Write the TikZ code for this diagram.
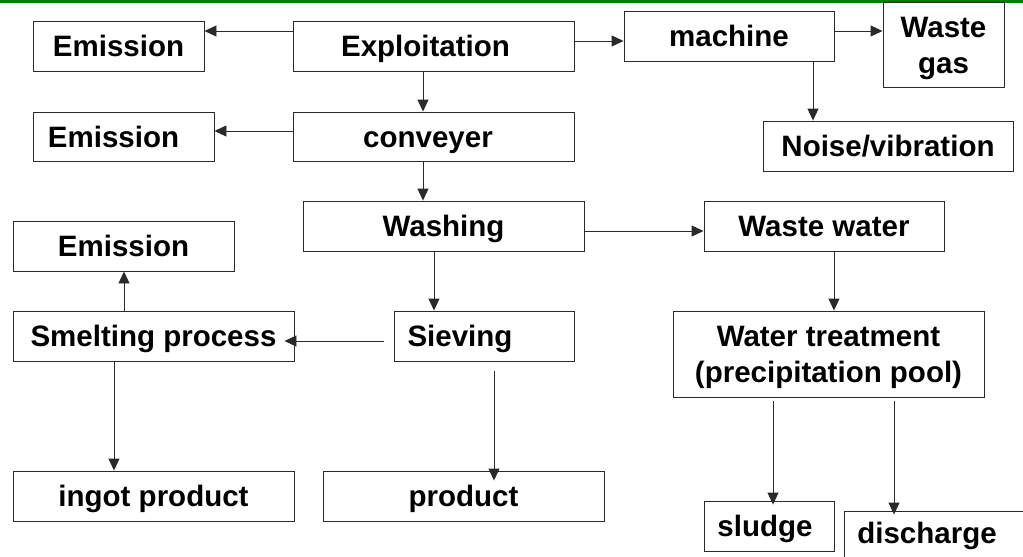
\documentclass[tikz,border=0pt]{standalone}
\usepackage{fontspec}
\setmainfont{Liberation Sans}
\usetikzlibrary{arrows.meta,calc}
\definecolor{topgreen}{HTML}{008000}
\definecolor{ink}{HTML}{2A2A2A}
\tikzset{
  box/.style={draw=ink, line width=0.9pt, rectangle, inner sep=0pt,
    minimum height=50pt, font=\fontsize{29.5}{36}\selectfont\bfseries, align=center,
    text height=21pt, text depth=0pt},
  twoline/.style={text height=57pt, text depth=0pt},
  lbl/.style={inner sep=0pt, font=\fontsize{29.5}{36}\selectfont\bfseries,
    text height=21pt, text depth=0pt},
  arr/.style={draw=ink, line width=0.9pt, -{Triangle[length=12pt,width=11pt]}}
}
\begin{document}
\begin{tikzpicture}[x=1pt,y=-1pt]
\useasboundingbox (0,0) rectangle (1023,557);
\begin{scope}
\clip (0,0) rectangle (1023,557);
\fill[topgreen] (0,0) rectangle (1023,3.4);
% boxes
\node[box, minimum width=171pt] (em1) at (118.5,46) {Emission};
\node[box, minimum width=281pt] (expl) at (433.5,46) {Exploitation\hspace*{16pt}};
\node[box, minimum width=210pt] (mach) at (729,36) {machine};
\node[box, twoline, minimum width=121pt, minimum height=85pt] (wgas) at (943.5,45) {Waste\\gas};
\node[box, minimum width=181pt, minimum height=49pt] (em2) at (123.5,136.5) {Emission\hspace*{20pt}};
\node[box, minimum width=281pt, minimum height=49pt] (conv) at (433.5,136.5) {conveyer\hspace*{11pt}};
\node[box, minimum width=250pt] (noise) at (888,146) {Noise/vibration};
\node[box, minimum width=281pt] (wash) at (443.5,226) {Washing};
\node[box, minimum width=240pt] (ww) at (824,226) {Waste water};
\node[box, minimum width=221pt] (em3) at (123.5,246) {Emission};
\node[box, minimum width=281pt] (smelt) at (153.5,336) {Smelting process};
\node[box, minimum width=180pt] (sieve) at (484,336) {Sieving\hspace*{48pt}};
\node[box, twoline, minimum width=311pt, minimum height=86pt] (wt) at (828.5,354) {Water treatment\\(precipitation pool)};
\node[box, minimum width=281pt] (ingot) at (153.5,496) {ingot product};
\node[box, minimum width=281pt] (prod) at (463.5,496) {product};
\node[box, minimum width=130pt] (sludge) at (769,526) {sludge\hspace*{8pt}};
\node[box, minimum width=190pt, minimum height=60pt] (disch) at (939,541) {};
\node[lbl] (dischtxt) at (927,532.5) {discharge};
% connectors
\draw[arr] ([yshift=15pt]expl.west) -- ([yshift=15pt]expl.west -| em1.east);
\draw[arr] ([xshift=-10.5pt]expl.south) -- ([xshift=-10.5pt]expl.south |- conv.north);
\draw[arr] ([yshift=5pt]expl.east) -- ([yshift=5pt]expl.east -| mach.west);
\draw[arr] ([yshift=5pt]mach.east) -- ([yshift=5pt]mach.east -| wgas.west);
\draw[arr] ([xshift=84pt]mach.south) -- ([xshift=84pt]mach.south |- noise.north);
\draw[arr] ([yshift=5.5pt]conv.west) -- ([yshift=5.5pt]conv.west -| em2.east);
\draw[arr] ([xshift=-10.5pt]conv.south) -- ([xshift=-10.5pt]conv.south |- wash.north);
\draw[arr] ([yshift=-5pt]wash.east) -- ([yshift=-5pt]wash.east -| ww.west);
\draw[arr] ([xshift=-9.5pt]wash.south) -- ([xshift=-9.5pt]wash.south |- sieve.north);
\draw[arr] ([xshift=10pt]ww.south) -- ([xshift=10pt]ww.south |- wt.north);
\draw[arr] ([xshift=-10pt,yshift=-5pt]sieve.west) -- ([xshift=-10pt,yshift=-5pt]sieve.west -| smelt.east);
\draw[arr] ([xshift=-29.5pt]smelt.north) -- ([xshift=-29.5pt]smelt.north |- em3.south);
\draw[arr] ([xshift=-39.5pt]smelt.south) -- ([xshift=-39.5pt]smelt.south |- ingot.north);
\draw[arr] ([xshift=10pt,yshift=-10pt]sieve.south) -- ([xshift=10pt,yshift=-10pt]sieve.south |- prod.north);
\draw[arr] ([xshift=-55.5pt,yshift=-4pt]wt.south) -- ([xshift=-55.5pt,yshift=-4pt]wt.south |- sludge.north);
\draw[arr] ([xshift=65.5pt,yshift=-4pt]wt.south) -- ([xshift=65.5pt,yshift=-4pt]wt.south |- disch.north);
\end{scope}
\end{tikzpicture}
\end{document}
